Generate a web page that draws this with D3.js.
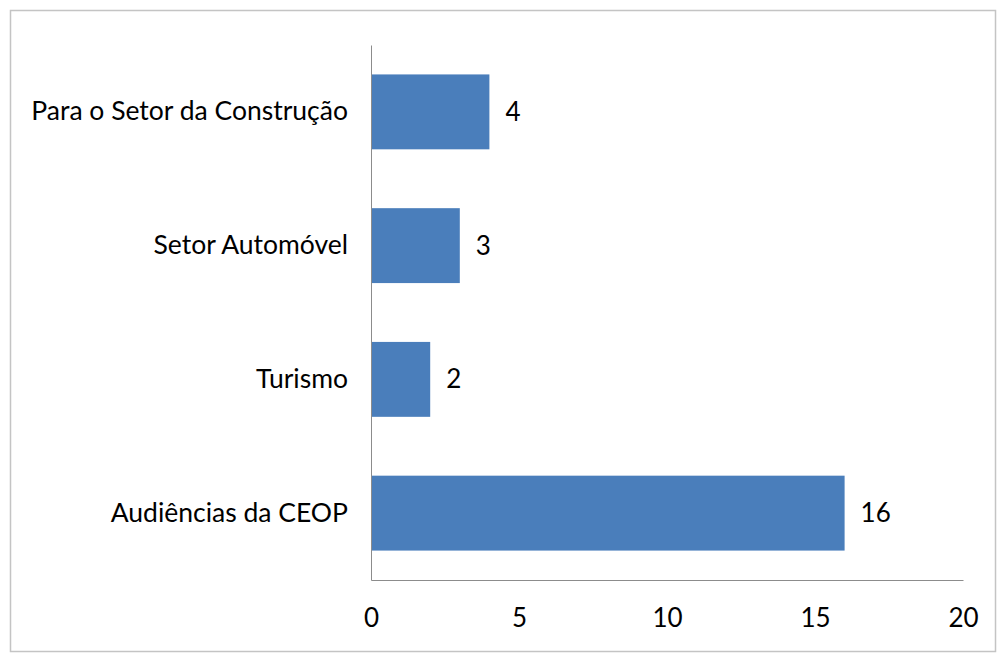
<!DOCTYPE html>
<html>
<head>
<meta charset="utf-8">
<script src="https://cdn.jsdelivr.net/npm/d3@7"></script>
<style>
	body { margin: 0; background: #fff; }
	text { font-family: Lato, "Open Sans", sans-serif; fill: #000; }
</style>
</head>
<body>
<svg width="997" height="654"></svg>
<script>
// Horizontal bar chart - categories listed top to bottom
var categories = ["Para o Setor da Construção", "Setor Automóvel", "Turismo", "Audiências da CEOP"];
var values = [4, 3, 2, 16];
var xTicks = [0, 5, 10, 15, 20];

var svg = d3.select("svg");

// outer frame
svg.append("rect")
	.attr("x", 10.5).attr("y", 10.5)
	.attr("width", 985).attr("height", 641)
	.attr("fill", "none")
	.attr("stroke", "#c4c4c4")
	.attr("stroke-width", 1.5);

var x = d3.scaleLinear().domain([0, 20]).range([371, 963]);
var y = d3.scaleBand().domain(categories).range([45, 580])
	.paddingInner(0.44).paddingOuter(0.22);

// bars
svg.append("g").selectAll("rect")
	.data(values)
	.enter().append("rect")
	.attr("x", x(0))
	.attr("y", (d, i) => y(categories[i]))
	.attr("width", d => x(d) - x(0))
	.attr("height", y.bandwidth())
	.attr("fill", "#4a7ebb");

// value labels
svg.append("g").selectAll("text")
	.data(values)
	.enter().append("text")
	.attr("x", d => x(d) + 16)
	.attr("y", (d, i) => y(categories[i]) + y.bandwidth() / 2)
	.attr("dy", "0.35em")
	.attr("font-size", 26)
	.text(d => d);

// y axis
var yAxis = svg.append("g")
	.attr("transform", "translate(" + x(0) + ",0)")
	.call(d3.axisLeft(y).tickSize(0).tickPadding(23));
yAxis.select(".domain").attr("stroke", "#8c8c8c");
yAxis.selectAll("text").attr("font-size", 26.5).attr("font-family", "Lato, sans-serif").attr("fill", "#000");

// x axis
var xAxis = svg.append("g")
	.attr("transform", "translate(0,580)")
	.call(d3.axisBottom(x).tickValues(xTicks).tickSize(0).tickPadding(29));
xAxis.select(".domain").attr("stroke", "#8c8c8c");
xAxis.selectAll("text").attr("font-size", 26).attr("font-family", "Lato, sans-serif").attr("fill", "#000");
</script>
</body>
</html>
